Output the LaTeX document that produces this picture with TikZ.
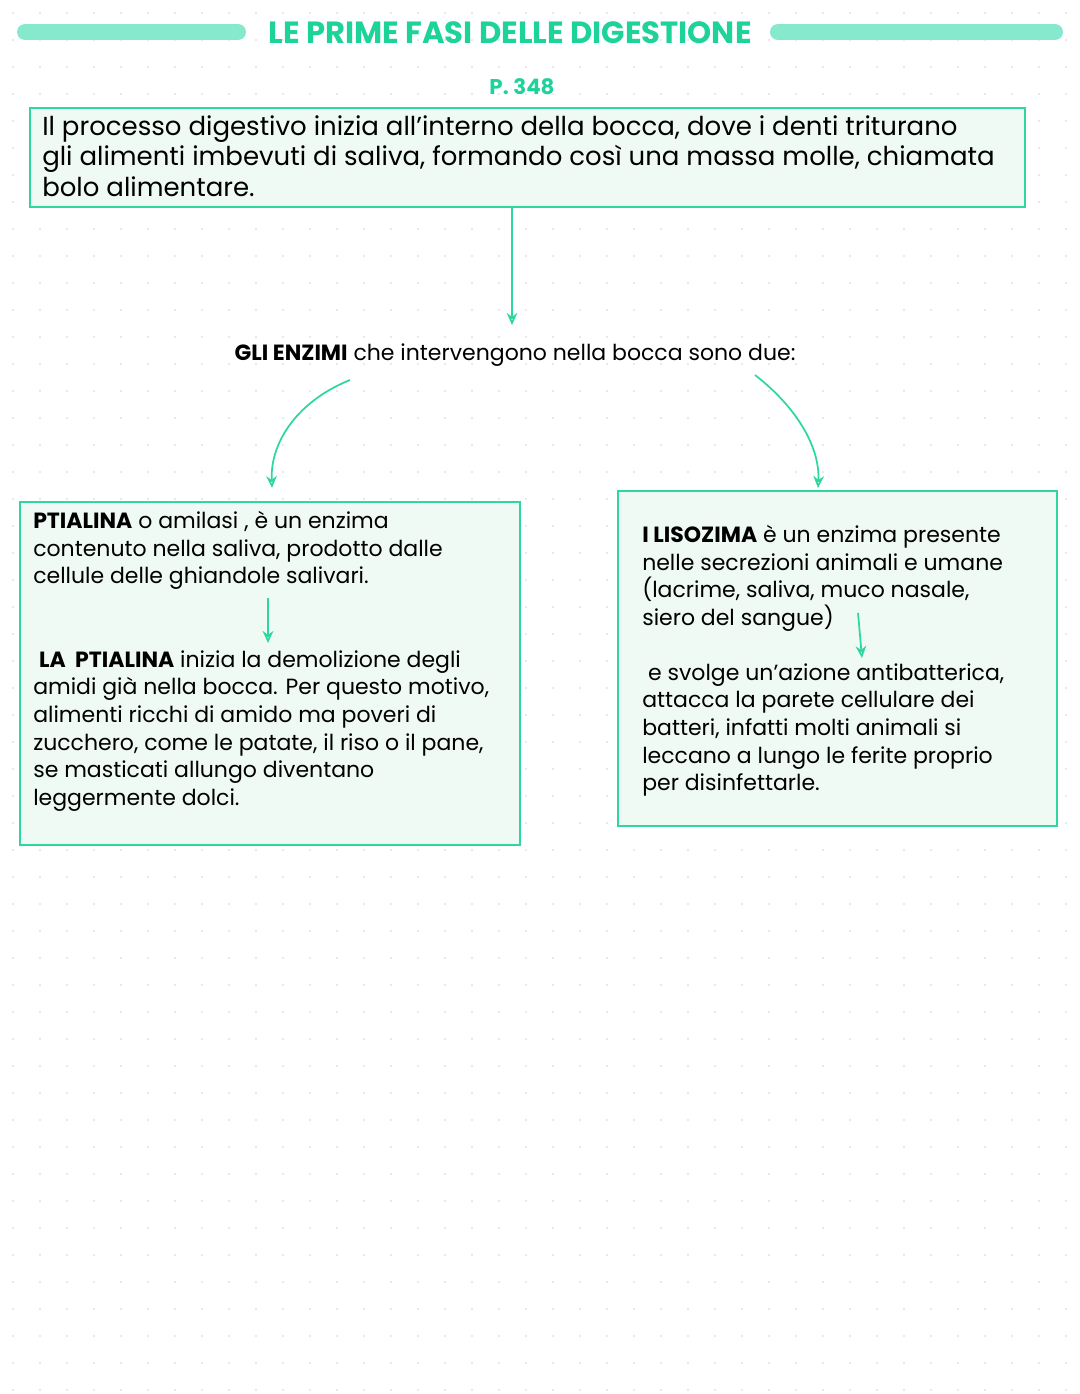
\documentclass[tikz,border=0pt]{standalone}
\usepackage{fontspec}
\setmainfont{Poppins}
\usetikzlibrary{arrows.meta}
\definecolor{mint}{HTML}{2ED6A0}
\definecolor{bar}{HTML}{86E8CC}
\definecolor{boxfill}{HTML}{EFFAF5}
\definecolor{ttl}{HTML}{1DD39A}
\tikzset{
 box/.style={draw=mint,line width=1.6pt,fill=boxfill},
 txt/.style={anchor=north west,align=left,font=\fontsize{17}{21}\selectfont,inner sep=0},
 arr/.style={draw=mint,line width=1.3pt,-{Stealth[length=9pt,width=8pt,open]}},
}
\begin{document}
\begin{tikzpicture}[x=0.75pt,y=-0.75pt]
\useasboundingbox (0,0) rectangle (1080,1394);
\foreach \i in {0,...,39}{\foreach \j in {0,...,51}{\fill[gray!35] (\i*27+13,\j*27+13) circle (0.9);}}
\draw[bar,line width=12pt,line cap=round] (25,32) -- (238,32);
\draw[bar,line width=12pt,line cap=round] (778,32) -- (1055,32);
\node[font=\fontsize{23}{28}\bfseries\selectfont,text=ttl] (title) at (510,33) {LE PRIME FASI DELLE DIGESTIONE};
\node[font=\fontsize{16}{20}\bfseries\selectfont,text=ttl] (page) at (522,87) {P. 348};
\draw[box] (30,108) rectangle (1025,207);
\node[txt,font=\fontsize{19.5}{23}\selectfont] (intro) at (42,115) {Il processo digestivo inizia all'interno della bocca, dove i denti triturano\\gli alimenti imbevuti di saliva, formando così una massa molle, chiamata\\bolo alimentare.};
\coordinate (a1) at (512,208);
\node[font=\fontsize{16.5}{20}\selectfont] (enz) at (515,355) {\textbf{GLI ENZIMI} che intervengono nella bocca sono due:};
\draw[arr] (a1) -- (512,325);
\draw[box] (20,502) rectangle (520,845);
\draw[box] (618,491) rectangle (1057,826);
\coordinate (c1) at (350,380); \coordinate (c2) at (272,488);
\coordinate (d1) at (755,375); \coordinate (d2) at (818,488);
\draw[arr] (c1) .. controls (300,400) and (270,440) .. (c2);
\draw[arr] (d1) .. controls (800,410) and (820,450) .. (d2);
\node[txt,font=\fontsize{16.5}{20.8}\selectfont] (pt1) at (33,511) {\textbf{PTIALINA} o amilasi , è un enzima\\contenuto nella saliva, prodotto dalle\\cellule delle ghiandole salivari.};
\node[txt,font=\fontsize{16.5}{20.8}\selectfont] (pt2) at (33,650) {\ \textbf{LA \ PTIALINA} inizia la demolizione degli\\amidi già nella bocca. Per questo motivo,\\alimenti ricchi di amido ma poveri di\\zucchero, come le patate, il riso o il pane,\\se masticati allungo diventano\\leggermente dolci.};
\draw[arr] (268,598) -- (268,643);
\node[txt,font=\fontsize{16.5}{20.8}\selectfont] (ly1) at (642,525) {\textbf{I LISOZIMA} è un enzima presente\\nelle secrezioni animali e umane\\(lacrime, saliva, muco nasale,\\siero del sangue)};
\node[txt,font=\fontsize{16.5}{20.8}\selectfont] (ly2) at (642,663) {\ e svolge un'azione antibatterica,\\attacca la parete cellulare dei\\batteri, infatti molti animali si\\leccano a lungo le ferite proprio\\per disinfettarle.};
\draw[arr] (858,613) -- (862,658);
\end{tikzpicture}
\end{document}
